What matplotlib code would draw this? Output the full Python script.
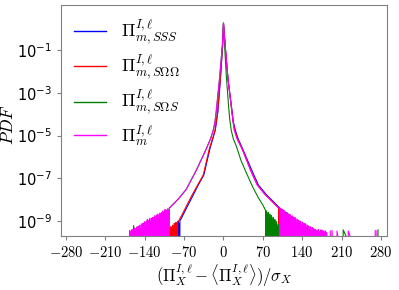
# PDF of standardized Pi^{I,l} terms
import numpy as np
import matplotlib
matplotlib.use("Agg")
from matplotlib import pyplot as plt
from matplotlib.ticker import FuncFormatter

plt.rcParams["mathtext.fontset"] = "cm"

# spacing of the histogram spikes in the noisy tails
bin_w = 1.5

# smooth core of each PDF: x and log10(PDF)
sss_x = [-76, -70, -63, -54, -45, -35, -24, -19, -14.5, -12.5, -10, -5.4, -1.5, 0,
         3, 8, 15.5, 17.5, 21, 26, 35, 50, 62, 76, 97, 101]
sss_logp = [-8.92, -8.6, -8.24, -7.78, -7.31, -6.84, -5.6, -5.15, -4.74, -4.35, -3.9, -2.35, -0.8, 0.25,
            -0.8, -2.35, -3.9, -4.35, -4.74, -5.15, -5.67, -6.6, -7.3, -7.75, -8.3, -8.4]
soo_x = [-80, -74, -65, -56, -46, -36, -25, -19.5, -15, -12.8, -10.5, -5.6, -1.6, 0,
         3, 8, 15, 17, 20, 25, 34, 48, 60, 74, 95, 98]
soo_logp = [-9.0, -8.71, -8.24, -7.78, -7.31, -6.84, -5.6, -5.15, -4.74, -4.35, -3.9, -2.35, -0.8, 0.25,
            -0.8, -2.35, -3.9, -4.35, -4.74, -5.15, -5.67, -6.6, -7.3, -7.75, -8.3, -8.38]
sos_x = [-95, -80, -66, -48, -32, -23, -18, -15, -13, -7, -2, 0,
         2, 5, 9, 11, 13.7, 17.5, 23, 31, 40, 52, 62, 70, 75]
sos_logp = [-8.35, -7.95, -7.5, -6.6, -5.7, -5.15, -4.74, -4.35, -3.9, -2.35, -0.8, 0.25,
            -0.8, -2.2, -3.6, -4.2, -4.74, -5.15, -5.5, -6.15, -6.7, -7.4, -7.9, -8.24, -8.5]
m_x = [-95, -80, -66, -48, -32, -23, -18, -15, -13, -7, -2, 0,
       3, 8, 15, 17, 19, 24, 34, 48, 60, 74, 95, 100]
m_logp = [-8.35, -7.95, -7.5, -6.6, -5.7, -5.15, -4.74, -4.35, -3.9, -2.35, -0.8, 0.25,
          -0.8, -2.35, -3.9, -4.35, -4.74, -5.15, -5.67, -6.6, -7.3, -7.75, -8.3, -8.4]

# log10 heights of the histogram spikes beyond the core, from the core outward
sss_left = [-8.95, -9.10, -9.00, -9.18, -9.08, -9.28, -9.20, -9.38, -9.30, -9.45]
sss_right = [-8.42, -8.50, -8.46, -8.58, -8.52, -8.65, -8.60, -8.72, -8.66, -8.80,
             -8.74, -8.86, -8.80, -8.94, -8.90, -9.02, -8.98, -9.10, -9.05, -9.18,
             -9.12, -9.25, -9.20, -9.32]
soo_left = [-9.00, -9.12, -9.05, -9.20, -9.10, -9.28, -9.18, -9.35, -9.25, -9.42, -9.32, -9.50]
soo_right = [-8.40, -8.50, -8.45, -8.58, -8.52, -8.66, -8.60, -8.74, -8.68, -8.82,
             -8.75, -8.88, -8.82, -8.96, -8.92, -9.05, -9.00, -9.12, -9.08, -9.20,
             -9.15, -9.28, -9.22, -9.35, -9.30, -9.42]
sos_left = [-8.40, -8.48, -8.45, -8.55, -8.50, -8.60, -8.56, -8.66, -8.62, -8.72,
            -8.68, -8.78, -8.74, -8.84, -8.80, -8.90, -8.86, -8.96, -8.92, -9.02,
            -8.98, -9.08, -9.04, -9.14, -9.10, -9.20, -9.15, -9.25, -9.22, -9.32]
sos_right = [-8.52, -8.68, -8.58, -8.75, -8.66, -8.85, -8.74, -8.95, -8.82, -9.05,
             -8.92, -9.15, -9.02, -9.25, -9.15, -9.38, -9.30]
m_left = [-8.38, -8.50, -8.42, -8.47, -8.62, -8.45, -8.55, -8.70, -8.52, -8.60,
          -8.75, -8.62, -8.68, -8.85, -8.66, -8.72, -8.90, -8.74, -8.80, -8.98,
          -8.82, -8.88, -9.05, -8.86, -8.95, -9.12, -8.92, -9.00, -9.20, -9.02,
          -9.08, -9.28, -9.10, -9.15, -9.35, -9.18, -9.22, -9.45, -9.25, -9.30,
          -9.50, -9.32, -9.40, -9.55, -9.38, -9.45, -9.50, -9.42]
m_right = [-8.40, -8.55, -8.45, -8.50, -8.66, -8.52, -8.58, -8.75, -8.60, -8.65,
           -8.82, -8.68, -8.72, -8.90, -8.75, -8.80, -8.98, -8.82, -8.88, -9.05,
           -8.90, -8.95, -9.12, -8.98, -9.02, -9.20, -9.04, -9.08, -9.25, -9.10,
           -9.15, -9.32, -9.18, -9.22, -9.40, -9.25, -9.28, -9.45, -9.30, -9.35,
           -9.50, -9.36, -9.40, -9.55, -9.42, -9.38, -9.50, -9.45, -9.40, -9.55,
           -9.42, -9.48, -9.55, -9.45, -9.50, -9.55]

# isolated single-count spikes: position and log10 height
sos_sparse_x = [-160, -137, 213, 275]
sos_sparse_h = [-9.2, -9.0, -9.4, -9.4]
m_sparse_x = [190, 193, 202, 222, 270, 273]
m_sparse_h = [-9.45, -9.42, -9.45, -9.45, -9.42, -9.45]

labels = [r"$\Pi_{m,SSS}^{I,\ell}$", r"$\Pi_{m,S\Omega\Omega}^{I,\ell}$",
          r"$\Pi_{m,S\Omega S}^{I,\ell}$", r"$\Pi_{m}^{I,\ell}$"]
colors = ["blue", "red", "green", "magenta"]


def build(core_x, core_logp, left, right, sparse_x=(), sparse_h=()):
    # core curve, then spikes that drop off the log axis between bins
    pts = list(zip(core_x, core_logp))
    lx = core_x[0] - bin_w * (1 + np.arange(len(left)))
    rx = core_x[-1] + bin_w * (1 + np.arange(len(right)))
    for sx, sh in list(zip(lx, left)) + list(zip(rx, right)) + list(zip(sparse_x, sparse_h)):
        pts += [(sx - bin_w / 2, None), (sx, sh)]
    pts.sort(key=lambda p: p[0])
    x = np.array([p[0] for p in pts])
    y = np.array([1e-13 if p[1] is None else 10.0 ** p[1] for p in pts])
    return x, y


series = [
    build(sss_x, sss_logp, sss_left, sss_right),
    build(soo_x, soo_logp, soo_left, soo_right),
    build(sos_x, sos_logp, sos_left, sos_right, sos_sparse_x, sos_sparse_h),
    build(m_x, m_logp, m_left, m_right, m_sparse_x, m_sparse_h),
]

fig = plt.figure(figsize=(3.99, 2.9), dpi=100)
ax = fig.add_axes([0.153, 0.186, 0.817, 0.797])

for (x, y), c, lab in zip(series, colors, labels):
    ax.plot(x, y, color=c, lw=0.8, label=lab)

ax.set_yscale("log")
ax.set_ylim(10 ** -9.69, 10 ** 1.1)
ax.set_xlim(-289, 291)
ax.set_xticks([-280, -210, -140, -70, 0, 70, 140, 210, 280])
ax.xaxis.set_major_formatter(FuncFormatter(lambda v, p: r"$%d$" % v))
ax.set_yticks([1e-9, 1e-7, 1e-5, 1e-3, 1e-1])
ax.yaxis.set_minor_locator(plt.NullLocator())
ax.tick_params(labelsize=10.5, color="gray", length=3)
for sp in ax.spines.values():
    sp.set_color("gray")

ax.set_xlabel(r"$(\Pi_X^{I,\ell}-\langle\Pi_X^{I,\ell}\rangle)/\sigma_X$", fontsize=12, labelpad=1)
ax.set_ylabel(r"$PDF$", fontsize=12.5)
ax.yaxis.set_label_coords(-0.135, 0.48)

leg = ax.legend(loc="upper left", frameon=False, fontsize=13, handlelength=1.8,
                labelspacing=0.35, borderaxespad=0.3)
for h in leg.get_lines():
    h.set_linewidth(1.0)

fig.savefig("out.png", dpi=100)
